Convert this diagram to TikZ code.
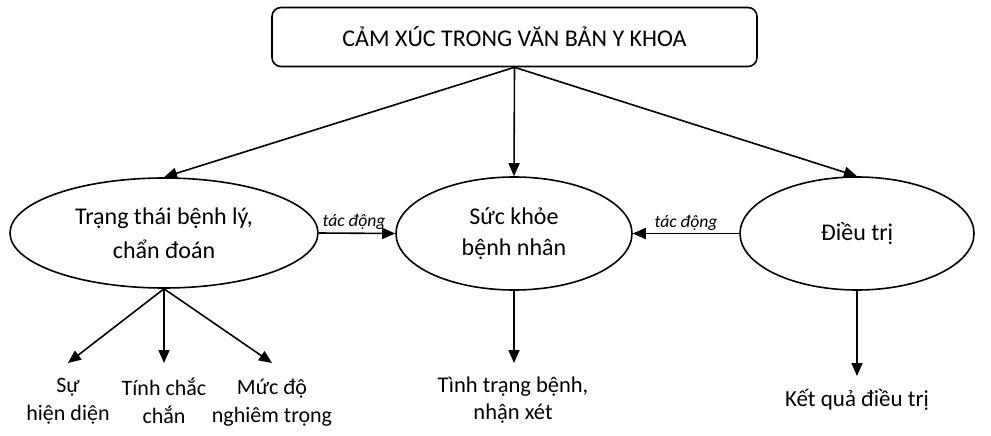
\documentclass[tikz,border=0pt]{standalone}
\usepackage{fontspec}
\setmainfont{Carlito}
\usetikzlibrary{arrows.meta,shapes.geometric}
\begin{document}
\begin{tikzpicture}[x=1pt,y=-1pt,
 line width=1.6pt,
 arr/.style={-{Triangle[length=13pt,width=11pt]}, line width=1.6pt},
 ell/.style={ellipse, draw, inner sep=0pt, align=center, font=\fontsize{24}{34}\selectfont},
 lbl/.style={align=center, font=\fontsize{22}{28}\selectfont, inner sep=0pt},
 act/.style={font=\fontsize{17.6}{20}\selectfont\itshape, inner sep=0pt}]
\useasboundingbox (0,0) rectangle (991,436);
\node[draw, rounded corners=9pt, minimum width=485pt, minimum height=59pt, inner sep=0pt,
  font=\fontsize{24}{28}\selectfont] (top) at (514.5,37) {CẢM XÚC TRONG VĂN BẢN Y KHOA};
\node[ell, minimum width=308pt, minimum height=110pt] (left) at (164,233) {Trạng thái bệnh lý,\\chẩn đoán};
\node[ell, minimum width=236pt, minimum height=113pt, font=\fontsize{24}{31}\selectfont] (mid) at (514,233.5) {Sức khỏe\\bệnh nhân};
\node[ell, minimum width=234pt, minimum height=113pt] (right) at (857,233.5) {Điều trị};
\draw[arr] (top.south) -- (left.north);
\draw[arr] (top.south) -- (mid.north);
\draw[arr] (top.south) -- (right.north);
\draw[arr] (left.east) -- (mid.west);
\draw[arr] (right.west) -- (mid.east);
\node[act] (a1) at (354,222) {tác động};
\node[act] (a2) at (686,223) {tác động};
\coordinate (t1) at (68,363);
\coordinate (t2) at (164,363);
\coordinate (t3) at (272,363);
\coordinate (t4) at (514,363);
\coordinate (t5) at (857,376);
\draw[arr] (left.south) -- (t1);
\draw[arr] (left.south) -- (t2);
\draw[arr] (left.south) -- (t3);
\draw[arr] (mid.south) -- (t4);
\draw[arr] (right.south) -- (t5);
\node[lbl] (l1) at (68,401) {Sự\\hiện diện};
\node[lbl] (l2) at (164,401) {Tính chắc\\chắn};
\node[lbl] (l3) at (272,403) {Mức độ\\nghiêm trọng};
\node[lbl, font=\fontsize{22.5}{27}\selectfont] (l4) at (513,400) {Tình trạng bệnh,\\nhận xét};
\node[lbl, font=\fontsize{23}{28}\selectfont] (l5) at (857,400) {Kết quả điều trị};
\end{tikzpicture}
\end{document}
